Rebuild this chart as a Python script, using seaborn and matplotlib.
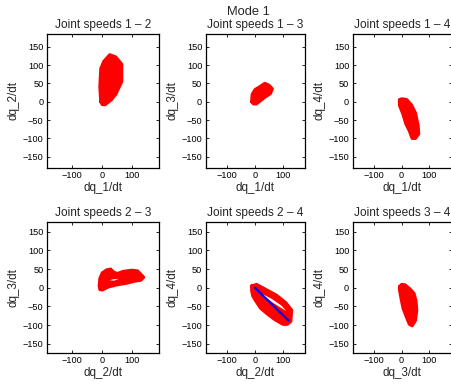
import matplotlib
matplotlib.use("Agg")
import matplotlib.pyplot as plt
import seaborn as sns
import pandas as pd

sns.set_style("white")
plt.rcParams['font.family'] = ['Liberation Sans', 'DejaVu Sans']

# ---- data: outlines of the point clouds (joint speed pairs) ----
c12_x = [-5, -8, -5, 5, 25, 45, 65, 65, 45, 30, 10, 0]
c12_y = [0, 40, 90, 110, 128, 122, 102, 55, 20, 5, -8, -8]

c13_x = [-12, -10, 0, 15, 35, 50, 62, 55, 35, 15, 5, -5]
c13_y = [0, 20, 33, 40, 50, 45, 35, 22, 12, 0, -6, -6]

c14_x = [-8, 0, 18, 35, 50, 60, 62, 50, 38, 28, 15, 5, -8]
c14_y = [5, 8, 6, -8, -30, -65, -88, -100, -100, -80, -60, -35, -10]

c23_x = [-10, -8, 0, 15, 28, 38, 50, 70, 100, 118, 130, 138, 128, 110, 80, 50, 20, 0, -8]
c23_y = [5, 25, 40, 48, 50, 42, 38, 44, 47, 45, 35, 28, 20, 18, 12, 8, 2, -6, -5]
h23_x = [24, 38, 55, 40]
h23_y = [20, 23, 24, 19]

c24_x = [-12, 6, 40, 77, 110, 131, 128, 115, 100, 70, 42, 20, 4, -8, -12]
c24_y = [5, 9, -5, -20, -40, -60, -90, -98, -98, -85, -69, -55, -37, -22, -8]
h24_x = [25, 60, 95, 112, 95, 60, 35]
h24_y = [-16, -30, -48, -62, -55, -38, -24]
fit24_x = [0, 120]
fit24_y = [0, -88]

c34_x = [-8, 0, 12, 30, 45, 52, 55, 50, 38, 28, 18, 5, -2, -8]
c34_y = [3, 9, 8, -3, -15, -35, -60, -88, -102, -98, -80, -55, -30, -5]

panels = [
    ("Joint speeds 1 \u2013 2", "dq_1/dt", "dq_2/dt", c12_x, c12_y, None, None),
    ("Joint speeds 1 \u2013 3", "dq_1/dt", "dq_3/dt", c13_x, c13_y, None, None),
    ("Joint speeds 1 \u2013 4", "dq_1/dt", "dq_4/dt", c14_x, c14_y, None, None),
    ("Joint speeds 2 \u2013 3", "dq_2/dt", "dq_3/dt", c23_x, c23_y, h23_x, h23_y),
    ("Joint speeds 2 \u2013 4", "dq_2/dt", "dq_4/dt", c24_x, c24_y, h24_x, h24_y),
    ("Joint speeds 3 \u2013 4", "dq_3/dt", "dq_4/dt", c34_x, c34_y, None, None),
]

W, H = 451, 386
fig = plt.figure(figsize=(W / 100, H / 100), dpi=100)

# axes boxes in pixels: (left, top, right, bottom)
cols = [(47, 159), (205.7, 305), (352.7, 452)]
rows = [(34, 168), (221.7, 352.7)]
xlims = [(-184, 189), (-176, 178.6), (-178, 183)]
ylims = [(-180.6, 184.5), (-174, 177)]

for i, (title, xl, yl, cx, cy, hx, hy) in enumerate(panels):
    r, c = divmod(i, 3)
    l, rr = cols[c]
    t, b = rows[r]
    ax = fig.add_axes([l / W, 1 - b / H, (rr - l) / W, (b - t) / H])
    df = pd.DataFrame({"x": cx + [cx[0]], "y": cy + [cy[0]]})
    ax.fill(df["x"], df["y"], color="#ff0000", lw=0)
    sns.lineplot(data=df, x="x", y="y", sort=False, estimator=None,
                 color="#ff0000", lw=2.2, ax=ax)
    if hx is not None:
        ax.fill(hx, hy, color="white", lw=0)
    if i == 4:
        dfl = pd.DataFrame({"x": fit24_x, "y": fit24_y})
        sns.lineplot(data=dfl, x="x", y="y", color="#0000ff", lw=1.6, ax=ax)
    ax.set_xlim(*xlims[c])
    ax.set_ylim(*ylims[r])
    ax.set_xticks([-100, 0, 100])
    ax.set_yticks([-150, -100, -50, 0, 50, 100, 150])
    ax.tick_params(direction="in", length=2.5, width=0.6, labelsize=6.6,
                   top=True, right=True, bottom=True, left=True, pad=2.5,
                   colors="black")
    for s in ax.spines.values():
        s.set_color("black")
        s.set_linewidth(0.9)
    ax.set_title(title, fontsize=8.6, pad=4)
    ax.set_xlabel(xl, fontsize=8.4, labelpad=1)
    ax.set_ylabel(yl, fontsize=8.4, labelpad=2)

fig.text(248.7 / W, 1 - 12 / H, "Mode 1", ha="center", va="center", fontsize=9.3)

fig.savefig("out.png", dpi=100)
